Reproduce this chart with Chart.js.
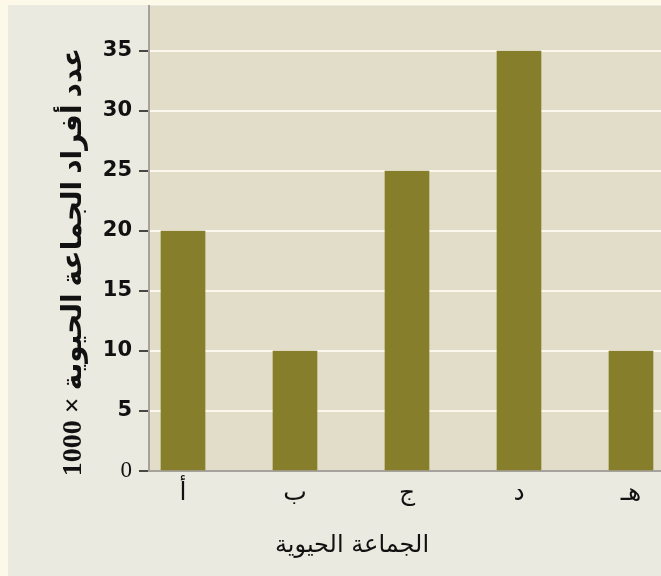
<!DOCTYPE html>
<html lang="ar">
<head>
<meta charset="utf-8">
<script src="https://cdn.jsdelivr.net/npm/chart.js@4"></script>
<style>
  html, body { margin: 0; padding: 0; background: #fdf9e8; }
  #wrap { position: relative; width: 661px; height: 576px; overflow: hidden; }
  #panel { position: absolute; left: 8px; top: 5px; right: 0; bottom: 0; background: #ebeae0; }
  #chart { position: absolute; left: 0; top: 0; }
</style>
</head>
<body>
<div id="wrap">
  <div id="panel"></div>
  <canvas id="chart" width="661" height="576"></canvas>
</div>
<script>
// Population groups and their sizes (thousands of individuals)
const groups = ['أ', 'ب', 'ج', 'د', 'هـ'];
const counts = [20, 10, 25, 35, 10];
const yTickValues = [0, 5, 10, 15, 20, 25, 30, 35];

const yTitle = 'عدد أفراد الجماعة الحيوية × 1000';
const xTitle = 'الجماعة الحيوية';

const plotBackground = {
  id: 'plotBackground',
  beforeDraw(chart) {
    const { ctx, chartArea: a } = chart;
    ctx.save();
    ctx.fillStyle = '#e2ddc8';
    ctx.fillRect(a.left, a.top, a.right - a.left, a.bottom - a.top);
    ctx.restore();
  }
};

// Axis titles placed at fixed spots beside the plot
const axisTitles = {
  id: 'axisTitles',
  afterDraw(chart) {
    const ctx = chart.ctx;
    ctx.save();
    ctx.fillStyle = '#111';
    ctx.direction = 'rtl';
    ctx.textAlign = 'center';
    ctx.textBaseline = 'middle';
    ctx.font = 'bold 28px "Liberation Serif", "DejaVu Sans", serif';
    ctx.translate(74, 262);
    ctx.rotate(-Math.PI / 2);
    ctx.fillText(yTitle, 0, 0);
    ctx.restore();

    ctx.save();
    ctx.fillStyle = '#111';
    ctx.direction = 'rtl';
    ctx.textAlign = 'center';
    ctx.textBaseline = 'middle';
    ctx.font = '24px "DejaVu Sans", sans-serif';
    ctx.fillText(xTitle, 352, 546);
    ctx.restore();
  }
};

new Chart(document.getElementById('chart'), {
  type: 'bar',
  data: {
    datasets: [{
      data: counts.map((v, i) => ({ x: i, y: v })),
      backgroundColor: '#877e2c',
      borderWidth: 0,
      barThickness: 44
    }]
  },
  options: {
    responsive: false,
    animation: false,
    layout: { padding: { top: 6, right: 0, left: 0, bottom: 0 } },
    plugins: { legend: { display: false }, tooltip: { enabled: false } },
    scales: {
      x: {
        type: 'linear',
        offset: false,
        min: -0.3036,
        max: 4.268,
        afterFit(scale) {
          scale.height = 105;
          scale.paddingLeft = 0;
          scale.paddingRight = 0;
        },
        afterBuildTicks(scale) {
          scale.ticks = groups.map((g, i) => ({ value: i }));
        },
        grid: { display: false, drawTicks: false, offset: false },
        border: { display: true, color: '#a4a29a', width: 2 },
        ticks: {
          padding: 7,
          color: '#111',
          font: { family: '"DejaVu Sans", sans-serif', size: 25 },
          callback: (v) => groups[v] ?? ''
        }
      },
      y: {
        min: 0,
        max: 38.75,
        afterFit(scale) {
          scale.width = 149;
          scale.paddingTop = 0;
          scale.paddingBottom = 0;
        },
        afterBuildTicks(scale) {
          scale.ticks = yTickValues.map(v => ({ value: v }));
        },
        grid: {
          color: (c) => (c.tick && c.tick.value === 0) ? 'rgba(0,0,0,0)' : '#fbf8ef',
          lineWidth: 2,
          tickColor: '#111',
          tickWidth: 1.5,
          tickLength: 10
        },
        border: { display: true, color: '#a4a29a', width: 2 },
        ticks: {
          padding: 7,
          color: '#111',
          font: (c) => (c.tick && c.tick.value === 0)
            ? { family: '"Liberation Serif", serif', size: 23, weight: 'normal' }
            : { family: '"DejaVu Sans", sans-serif', size: 21, weight: 'bold' }
        }
      }
    }
  },
  plugins: [plotBackground, axisTitles]
});
</script>
</body>
</html>
